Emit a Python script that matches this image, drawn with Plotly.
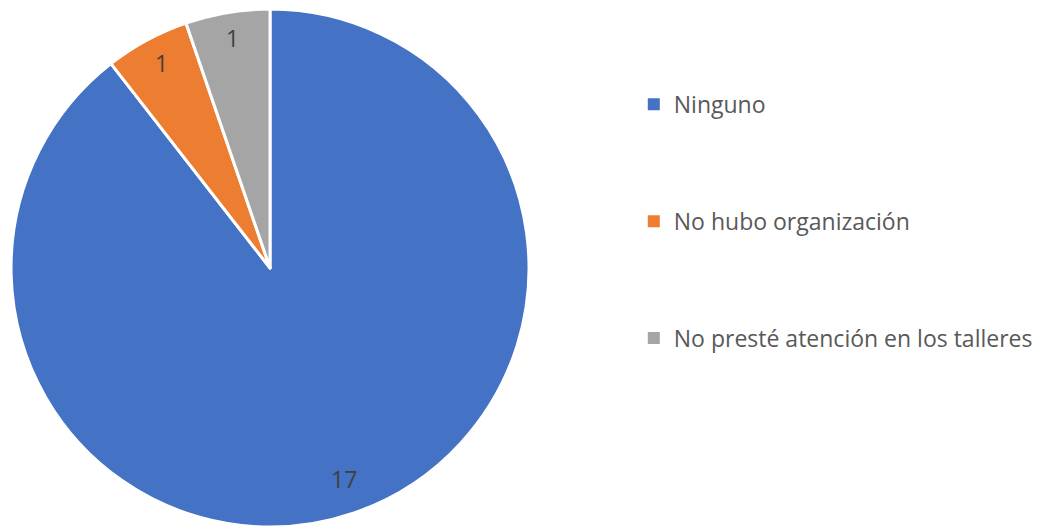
import math
import plotly.graph_objects as go

labels = ["Ninguno", "No hubo organización", "No presté atención en los talleres"]
values = [17, 1, 1]
colors = ["#4472C4", "#ED7D31", "#A5A5A5"]

# pie geometry (paper fractions)
dom_x = [0.0029, 0.4962]
dom_y = [0.0152, 0.998]
label_r = 0.88

W, H = 1050, 527
fig = go.Figure()
fig.add_trace(go.Pie(
    labels=labels, values=values, sort=False, direction="clockwise", rotation=0,
    marker=dict(colors=colors, line=dict(color="white", width=3)),
    textinfo="none",
    domain=dict(x=dom_x, y=dom_y),
    showlegend=False, hoverinfo="label+value",
))

# data labels placed from the slice angles
cx = (dom_x[0] + dom_x[1]) / 2 * W
cy = (dom_y[0] + dom_y[1]) / 2 * H
R = min((dom_x[1] - dom_x[0]) * W, (dom_y[1] - dom_y[0]) * H) / 2
total = sum(values)
acc = 0
for v in values:
    mid = (acc + v / 2) / total * 360
    acc += v
    a = math.radians(mid)
    px = cx + label_r * R * math.sin(a)
    py = cy + label_r * R * math.cos(a)
    fig.add_annotation(x=px / W, y=py / H, xref="paper", yref="paper",
                       xanchor="center", yanchor="middle", yshift=5,
                       text=str(v), showarrow=False,
                       font=dict(family="Open Sans", size=23, color="#404040"))

for lab, col in zip(labels, colors):
    fig.add_trace(go.Scatter(
        x=[None], y=[None], mode="markers", name=lab, legendgroup=lab,
        marker=dict(symbol="square", size=7, color=col),
    ))

fig.update_layout(
    width=W, height=H,
    margin=dict(l=0, r=0, t=0, b=0),
    paper_bgcolor="white", plot_bgcolor="white",
    xaxis=dict(visible=False), yaxis=dict(visible=False),
    legend=dict(x=0.596, y=0.858, xanchor="left", yanchor="top",
                font=dict(family="Open Sans", size=23, color="#595959"),
                tracegroupgap=84, itemsizing="constant", bgcolor="rgba(0,0,0,0)"),
)
fig.write_html("out.html")
